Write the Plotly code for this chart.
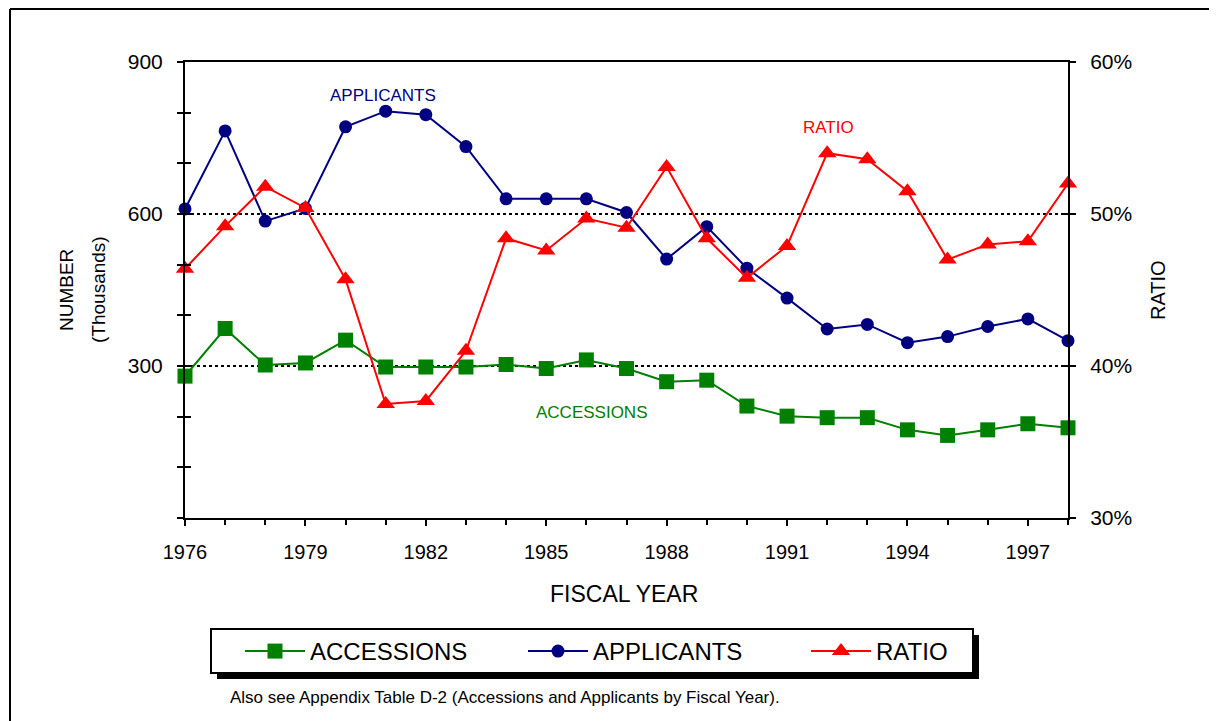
import plotly.graph_objects as go

years = list(range(1976, 1999))
accessions = [280, 374, 302, 306, 351, 298, 298, 298, 303, 295, 312, 295, 269, 272,
              221, 201, 198, 198, 174, 163, 174, 186, 178]
applicants = [610, 764, 586, 611, 772, 803, 796, 733, 630, 630, 630, 603, 511, 575,
              493, 434, 373, 382, 346, 358, 378, 393, 350]
ratio = [46.4, 49.2, 51.8, 50.4, 45.7, 37.5, 37.7, 41.0, 48.4, 47.6, 49.7, 49.1, 53.1, 48.4,
         45.8, 47.9, 54.0, 53.6, 51.5, 47.0, 48.0, 48.2, 52.0]
left_ticks = [300, 600, 900]

GREEN = "#008000"
NAVY = "#000080"
RED = "#FF0000"
FONT = "Liberation Sans, Arial, sans-serif"

# page body has an 8px margin: work in window pixel coordinates
OFF = 8
W, H = 1217 - OFF, 721 - OFF
L, R, T, B = 185, 1068, 62, 518        # plot area in window pixels
pw, ph = R - L, B - T


def px(xw):
    return (xw - L) / pw


def py(yw):
    return (B - yw) / ph


fig = go.Figure()
fig.add_trace(go.Scatter(x=years, y=accessions, name="ACCESSIONS", mode="lines+markers",
                         line=dict(color=GREEN, width=2),
                         marker=dict(symbol="square", size=15, color=GREEN),
                         cliponaxis=False))
fig.add_trace(go.Scatter(x=years, y=applicants, name="APPLICANTS", mode="lines+markers",
                         line=dict(color=NAVY, width=2),
                         marker=dict(symbol="circle", size=13, color=NAVY),
                         cliponaxis=False))
fig.add_trace(go.Scatter(x=years, y=ratio, name="RATIO", mode="lines+markers", yaxis="y2",
                         line=dict(color=RED, width=2),
                         marker=dict(symbol="triangle-up", size=16, color=RED),
                         cliponaxis=False))

xtickfont = dict(family=FONT, size=20, color="black")
ytickfont = dict(family=FONT, size=21, color="black")

fig.update_layout(
    width=W, height=H,
    margin=dict(l=L - OFF, r=W - (R - OFF), t=T - OFF, b=H - (B - OFF)),
    paper_bgcolor="white", plot_bgcolor="white",
    font=dict(family=FONT, color="black"),
    showlegend=True,
    legend=dict(orientation="h", x=px(240), y=py(629), xanchor="left", yanchor="top",
                bgcolor="rgba(0,0,0,0)", borderwidth=0,
                font=dict(family=FONT, size=24, color="black"),
                itemwidth=60, entrywidth=208, entrywidthmode="pixels",
                traceorder="normal"),
    xaxis=dict(range=[1976, 1998], tick0=1976, dtick=3, ticks="outside", ticklen=6,
               tickwidth=2, tickcolor="black", showline=True, linecolor="black",
               linewidth=2, mirror=True, showgrid=False, zeroline=False,
               tickfont=xtickfont, ticklabelstandoff=9,
               minor=dict(dtick=1, ticks="outside", ticklen=5, tickwidth=2, tickcolor="black")),
    yaxis=dict(range=[0, 900], tickvals=left_ticks, ticks="outside", ticklen=6,
               tickwidth=2, tickcolor="black", showline=True, linecolor="black",
               linewidth=2, showgrid=True, gridcolor="black", griddash="dot",
               gridwidth=1.5, zeroline=False, tickfont=ytickfont, ticklabelstandoff=10,
               minor=dict(tick0=0, dtick=100, ticks="outside", ticklen=6, tickwidth=2,
                          tickcolor="black", showgrid=False)),
    yaxis3=dict(range=[0, 900], overlaying="y", side="left", tick0=0, dtick=100,
                ticks="inside", ticklen=6, tickwidth=2, tickcolor="black",
                showticklabels=False, showgrid=False, zeroline=False, showline=False),
    yaxis2=dict(range=[30, 60], overlaying="y", side="right", tick0=30, dtick=10,
                ticksuffix="%", ticks="outside", ticklen=6, tickwidth=2,
                tickcolor="black", showline=True, linecolor="black", linewidth=2,
                showgrid=False, zeroline=False, tickfont=ytickfont, ticklabelstandoff=10),
    yaxis4=dict(range=[30, 60], overlaying="y", side="right", tick0=30, dtick=10,
                ticks="inside", ticklen=6, tickwidth=2, tickcolor="black",
                showticklabels=False, showgrid=False, zeroline=False, showline=False),
)

# invisible traces to activate overlay axes for inside ticks
fig.add_trace(go.Scatter(x=[years[0]], y=[accessions[0]], yaxis="y3", showlegend=False,
                         mode="markers", marker=dict(opacity=0), hoverinfo="skip"))
fig.add_trace(go.Scatter(x=[years[0]], y=[ratio[0]], yaxis="y4", showlegend=False,
                         mode="markers", marker=dict(opacity=0), hoverinfo="skip"))

shapes = [
    # outer frame (top and left edges)
    dict(type="line", xref="paper", yref="paper", x0=px(10), x1=px(1240), y0=py(9), y1=py(9),
         line=dict(color="black", width=2)),
    dict(type="line", xref="paper", yref="paper", x0=px(10), x1=px(10), y0=py(9), y1=py(740),
         line=dict(color="black", width=2)),
    # legend shadow and box
    dict(type="rect", xref="paper", yref="paper", x0=px(217), x1=px(979), y0=py(635), y1=py(679),
         fillcolor="black", line=dict(width=0)),
    dict(type="rect", xref="paper", yref="paper", x0=px(211), x1=px(973), y0=py(629), y1=py(673),
         fillcolor="white", line=dict(color="black", width=2)),
]
fig.update_layout(shapes=shapes)


def label(text, x, y, size, color="black", xref="paper", yref="paper", angle=0,
          xanchor="center"):
    return dict(text=text, x=x, y=y, xref=xref, yref=yref, showarrow=False,
                textangle=angle, xanchor=xanchor, yanchor="middle",
                font=dict(family=FONT, size=size, color=color))


ann = [
    label("APPLICANTS", 1980.93, 833, 17, NAVY, "x", "y"),
    label("RATIO", 1992.04, 55.66, 17, RED, "x", "y2"),
    label("ACCESSIONS", 1986.14, 209, 17, GREEN, "x", "y"),
    label("NUMBER", px(66), py(290), 19, angle=-90),
    label("(Thousands)", px(98), py(290), 19, angle=-90),
    label("RATIO", px(1158), py(290), 20, angle=-90),
    label("FISCAL YEAR", px(624), py(594), 23),
    label("Also see Appendix Table D-2 (Accessions and Applicants by Fiscal Year).",
          px(228), py(697), 17, xanchor="left"),
]
fig.update_layout(annotations=ann)

fig.write_html("out.html")
